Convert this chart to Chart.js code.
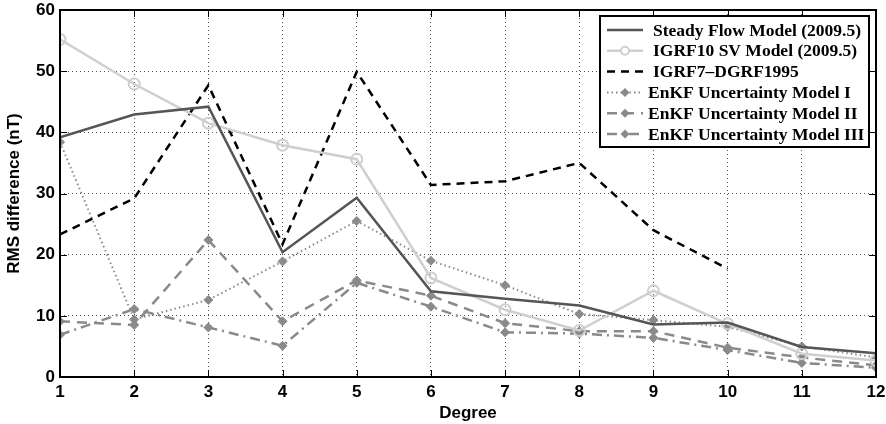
<!DOCTYPE html>
<html>
<head>
<meta charset="utf-8">
<script src="https://cdn.jsdelivr.net/npm/chart.js@4/dist/chart.umd.min.js"></script>
<style>
  html, body { margin: 0; padding: 0; background: #fff; }
  #wrap { width: 886px; height: 424px; }
</style>
</head>
<body>
<div id="wrap"><canvas id="rmsChart" width="886" height="424"></canvas></div>
<script>
const degrees = [1, 2, 3, 4, 5, 6, 7, 8, 9, 10, 11, 12];
const steadyFlow = [39.2, 42.9, 44.2, 20.4, 29.3, 14.0, 12.8, 11.7, 8.6, 8.9, 4.9, 3.9];
const igrf10 = [55.2, 47.9, 41.5, 37.9, 35.6, 16.2, 11.0, 7.6, 14.1, 8.7, 3.8, 2.7];
const igrf7 = [23.3, 29.2, 47.7, 21.7, 49.9, 31.4, 32.0, 35.0, 24.0, 17.7, null, null];
const enkf1 = [38.4, 9.4, 12.6, 18.9, 25.5, 19.0, 15.0, 10.3, 9.3, 8.2, 5.0, 3.2];
const enkf2 = [9.1, 8.5, 22.4, 9.1, 15.8, 13.3, 8.8, 7.5, 7.5, 4.8, 3.2, 1.9];
const enkf3 = [6.9, 11.1, 8.1, 5.1, 15.4, 11.5, 7.3, 7.1, 6.4, 4.4, 2.3, 1.5];
const yTicks = [0, 10, 20, 30, 40, 50, 60];

const toPoints = arr => degrees.map((d, i) => ({ x: d, y: arr[i] }));

const series = [
  { label: 'Steady Flow Model (2009.5)', data: steadyFlow, color: '#555555', width: 2.5, dash: [], marker: null },
  { label: 'IGRF10 SV Model (2009.5)', data: igrf10, color: '#cfcfcf', width: 2.5, dash: [], marker: 'circle' },
  { label: 'IGRF7\u2013DGRF1995', data: igrf7, color: '#000000', width: 2.5, dash: [8, 6], marker: null },
  { label: 'EnKF Uncertainty Model I', data: enkf1, color: '#8a8a8a', width: 2, dash: [1.5, 3], marker: 'rectRot' },
  { label: 'EnKF Uncertainty Model II', data: enkf2, color: '#8a8a8a', width: 2.5, dash: [10, 7], marker: 'rectRot' },
  { label: 'EnKF Uncertainty Model III', data: enkf3, color: '#8a8a8a', width: 2.5, dash: [10, 5, 2, 5], marker: 'rectRot' }
];

const datasets = series.map(s => ({
  label: s.label,
  data: toPoints(s.data),
  borderColor: s.color,
  backgroundColor: s.marker === 'circle' ? 'rgba(0,0,0,0)' : s.color,
  borderWidth: s.width,
  borderDash: s.dash,
  pointStyle: s.marker || 'circle',
  pointRadius: s.marker === 'circle' ? 5.5 : (s.marker ? 4.5 : 0),
  pointBorderWidth: s.marker === 'circle' ? 2 : 1,
  pointBorderColor: s.color,
  pointBackgroundColor: s.marker === 'circle' ? 'rgba(0,0,0,0)' : s.color,
  tension: 0,
  spanGaps: false,
  fill: false
}));

// box around the axes plus inward tick marks
const boxPlugin = {
  id: 'boxPlugin',
  afterDraw(chart) {
    const { ctx, chartArea: a, scales } = chart;
    ctx.save();
    ctx.strokeStyle = '#000';
    ctx.lineWidth = 1;
    scales.x.ticks.forEach(t => {
      const px = Math.round(scales.x.getPixelForValue(t.value)) + 0.5;
      ctx.beginPath();
      ctx.moveTo(px, a.bottom); ctx.lineTo(px, a.bottom - 7);
      ctx.moveTo(px, a.top); ctx.lineTo(px, a.top + 7);
      ctx.stroke();
    });
    scales.y.ticks.forEach(t => {
      const py = Math.round(scales.y.getPixelForValue(t.value)) + 0.5;
      ctx.beginPath();
      ctx.moveTo(a.left, py); ctx.lineTo(a.left + 7, py);
      ctx.moveTo(a.right, py); ctx.lineTo(a.right - 7, py);
      ctx.stroke();
    });
    ctx.lineWidth = 2;
    ctx.strokeRect(a.left, a.top, a.right - a.left, a.bottom - a.top);
    ctx.restore();
  }
};

// legend drawn in the upper right corner of the plot
const legendPlugin = {
  id: 'legendBox',
  afterDraw(chart) {
    const { ctx, chartArea: a } = chart;
    const boxW = 269, boxH = 131;
    const x0 = a.right - 7 - boxW, y0 = a.top + 6;
    ctx.save();
    ctx.fillStyle = '#fff';
    ctx.fillRect(x0, y0, boxW, boxH);
    ctx.strokeStyle = '#000';
    ctx.lineWidth = 2;
    ctx.strokeRect(x0, y0, boxW, boxH);
    ctx.font = 'bold 17.5px "Liberation Serif", "Times New Roman", serif';
    ctx.textBaseline = 'middle';
    series.forEach((s, i) => {
      const cy = y0 + 14 + i * 20.8;
      const lx0 = x0 + 7, lx1 = x0 + 43;
      ctx.strokeStyle = s.color;
      ctx.lineWidth = s.width;
      ctx.setLineDash(s.dash);
      ctx.beginPath();
      ctx.moveTo(lx0, cy); ctx.lineTo(lx1, cy);
      ctx.stroke();
      ctx.setLineDash([]);
      if (s.marker === 'circle') {
        ctx.lineWidth = 2;
        ctx.fillStyle = '#fff';
        ctx.beginPath();
        ctx.arc((lx0 + lx1) / 2, cy, 4, 0, Math.PI * 2);
        ctx.fill(); ctx.stroke();
      } else if (s.marker) {
        const mx = (lx0 + lx1) / 2, r = 4.5;
        ctx.fillStyle = s.color;
        ctx.beginPath();
        ctx.moveTo(mx, cy - r); ctx.lineTo(mx + r, cy); ctx.lineTo(mx, cy + r); ctx.lineTo(mx - r, cy);
        ctx.closePath(); ctx.fill();
      }
      ctx.fillStyle = '#000';
      ctx.fillText(s.label, x0 + (i < 3 ? 53 : 48), cy + 1);
    });
    ctx.restore();
  }
};

const tickFont = { family: '"Liberation Sans", Arial, sans-serif', size: 17, weight: 'bold' };

new Chart(document.getElementById('rmsChart').getContext('2d'), {
  type: 'line',
  data: { datasets },
  options: {
    responsive: false,
    animation: false,
    layout: { padding: { top: 10, right: 10, left: 4, bottom: 0 } },
    plugins: { legend: { display: false }, tooltip: { enabled: false } },
    scales: {
      x: {
        type: 'linear',
        min: 1,
        max: 12,
        afterBuildTicks: scale => { scale.ticks = degrees.map(v => ({ value: v })); },
        afterFit: scale => { scale.height = 47; scale.paddingRight = 0; },
        ticks: { color: '#000', font: tickFont, padding: 5, maxRotation: 0, autoSkip: false },
        grid: { color: '#555', lineWidth: 1, drawTicks: false },
        border: { display: false, dash: [1, 3] },
        title: {
          display: true, text: 'Degree', color: '#000',
          font: { family: '"Liberation Sans", Arial, sans-serif', size: 17, weight: 'bold' },
          padding: { top: -3, bottom: 0 }
        }
      },
      y: {
        min: 0,
        max: 60,
        afterBuildTicks: scale => { scale.ticks = yTicks.map(v => ({ value: v })); },
        afterFit: scale => { scale.width = 56; scale.paddingTop = 0; },
        ticks: { color: '#000', font: tickFont, padding: 5 },
        grid: { color: '#555', lineWidth: 1, drawTicks: false },
        border: { display: false, dash: [1, 3] },
        title: {
          display: true, text: 'RMS difference (nT)', color: '#000',
          font: { family: '"Liberation Sans", Arial, sans-serif', size: 17, weight: 'bold' },
          padding: { top: 0, bottom: 0 }
        }
      }
    }
  },
  plugins: [boxPlugin, legendPlugin]
});
</script>
</body>
</html>
